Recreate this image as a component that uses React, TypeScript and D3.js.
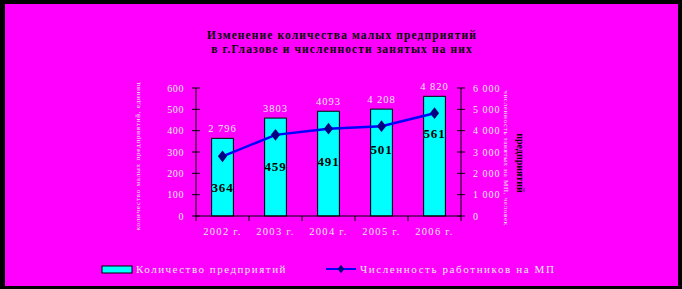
import React from "react";
import * as d3 from "d3";

const years = ["2002 г.", "2003 г.", "2004 г.", "2005 г.", "2006 г."];
const enterprises = [364, 459, 491, 501, 561];
const workers = [2796, 3803, 4093, 4208, 4820];
const workerLabels = ["2 796", "3803", "4093", "4 208", "4 820"];
const leftTicks = [0, 100, 200, 300, 400, 500, 600];
const rightTicks = [0, 1000, 2000, 3000, 4000, 5000, 6000];
const rightTickLabels = ["0", "1 000", "2 000", "3 000", "4 000", "5 000", "6 000"];
const titleLines = ["Изменение количества малых предприятий", "в г.Глазове и численности занятых на них"];
const legendBar = "Количество предприятий";
const legendLine = "Численность работников на МП";
const leftAxisTitle = "количество малых предприятий, единиц";
const rightAxisTitle = "численность занятых на МП, человек";
const rightAxisTitle2 = "предприятий";

const W = 682, H = 289;
const plot = { left: 196, right: 461, top: 88, bottom: 216 };
const barLabelOffsets = [31, 32, 33, 23, 20];
const serif = "'Liberation Serif', 'DejaVu Serif', serif";
const light = "#ececec";

export default function App() {
  const x = d3.scaleBand<string>().domain(years).range([plot.left, plot.right]).paddingInner(0.59).paddingOuter(0.295);
  const xc = (i: number) => (x(years[i]) as number) + x.bandwidth() / 2;
  const yL = d3.scaleLinear().domain([0, 600]).range([plot.bottom, plot.top]);
  const yR = d3.scaleLinear().domain([0, 6000]).range([plot.bottom, plot.top]);
  const line = d3.line<number>().x((_, i) => xc(i)).y((d) => yR(d));
  const step = (plot.right - plot.left) / years.length;
  const boundaries = d3.range(years.length + 1).map((i) => plot.left + i * step);

  return (
    <svg width={W} height={H} style={{ position: "fixed", left: 0, top: 0, display: "block" }} fontFamily={serif}>
      <rect x={0} y={0} width={W} height={H} fill="#000" />
      <rect x={5} y={4} width={673} height={282} fill="#FF00FF" />
      {titleLines.map((t, i) => (
        <text key={i} x={342} y={39 + i * 14} textAnchor="middle" fontSize={11.5} fontWeight="bold" letterSpacing={1.1} fill="#000">{t}</text>
      ))}
      {/* bars */}
      {enterprises.map((v, i) => (
        <rect key={i} x={x(years[i])} y={yL(v)} width={x.bandwidth()} height={plot.bottom - yL(v)} fill="#00FFFF" stroke="#000" strokeWidth={1} />
      ))}
      {/* axes */}
      <line x1={plot.left} x2={plot.left} y1={plot.top} y2={plot.bottom} stroke="#000" />
      <line x1={plot.right} x2={plot.right} y1={plot.top} y2={plot.bottom} stroke="#000" />
      <line x1={plot.left} x2={plot.right} y1={plot.bottom} y2={plot.bottom} stroke="#000" />
      {leftTicks.map((t) => (
        <g key={t}>
          <line x1={plot.left - 4} x2={plot.left + 4} y1={yL(t)} y2={yL(t)} stroke="#000" />
          <text x={plot.left - 12} y={yL(t)} dy="0.35em" textAnchor="end" fontSize={10} letterSpacing={0.6} fill={light}>{t}</text>
        </g>
      ))}
      {rightTicks.map((t, i) => (
        <g key={t}>
          <line x1={plot.right - 4} x2={plot.right + 4} y1={yR(t)} y2={yR(t)} stroke="#000" />
          <text x={plot.right + 12} y={yR(t)} dy="0.35em" textAnchor="start" fontSize={10} letterSpacing={1} fill={light}>{rightTickLabels[i]}</text>
        </g>
      ))}
      {boundaries.map((b, i) => (
        <line key={i} x1={b} x2={b} y1={plot.bottom} y2={plot.bottom + 5} stroke="#000" />
      ))}
      {years.map((y, i) => (
        <text key={y} x={xc(i)} y={plot.bottom + 19} textAnchor="middle" fontSize={10.5} letterSpacing={1.3} fill={light}>{y}</text>
      ))}
      {/* line */}
      <path d={line(workers) || ""} fill="none" stroke="#0000FF" strokeWidth={2.5} />
      {workers.map((v, i) => (
        <path key={i} d={d3.symbol(d3.symbolDiamond, 55)() || ""} transform={`translate(${xc(i)},${yR(v)}) scale(1.15,0.85)`} fill="#000080" />
      ))}
      {workers.map((v, i) => (
        <text key={i} x={xc(i)} y={yL(enterprises[i]) - 10} dy="0.35em" textAnchor="middle" fontSize={10.5} letterSpacing={1} fill={light}>{workerLabels[i]}</text>
      ))}
      {enterprises.map((v, i) => (
        <text key={i} x={xc(i)} y={yR(workers[i]) + barLabelOffsets[i]} dy="0.35em" textAnchor="middle" fontSize={13} fontWeight="bold" letterSpacing={0.8} fill="#000">{v}</text>
      ))}
      {/* axis titles */}
      <text transform={`translate(140,156) rotate(-90)`} textAnchor="middle" fontSize={7} letterSpacing={0.8} fill={light}>{leftAxisTitle}</text>
      <text transform={`translate(504,158) rotate(90)`} textAnchor="middle" fontSize={7} letterSpacing={0.7} fill={light}>{rightAxisTitle}</text>
      <text transform={`translate(517,163) rotate(90)`} textAnchor="middle" fontSize={10} fontWeight="bold" fill="#000">{rightAxisTitle2}</text>
      {/* legend */}
      <rect x={102} y={266} width={30} height={7} fill="#00FFFF" stroke="#000" />
      <text x={136} y={273} fontSize={11} letterSpacing={1.5} fill={light}>{legendBar}</text>
      <line x1={326} x2={356} y1={269} y2={269} stroke="#0000FF" strokeWidth={2} />
      <path d={d3.symbol(d3.symbolDiamond, 30)() || ""} transform="translate(341,269) scale(1.15,0.85)" fill="#000080" />
      <text x={360} y={273} fontSize={11} letterSpacing={1.6} fill={light}>{legendLine}</text>
    </svg>
  );
}
